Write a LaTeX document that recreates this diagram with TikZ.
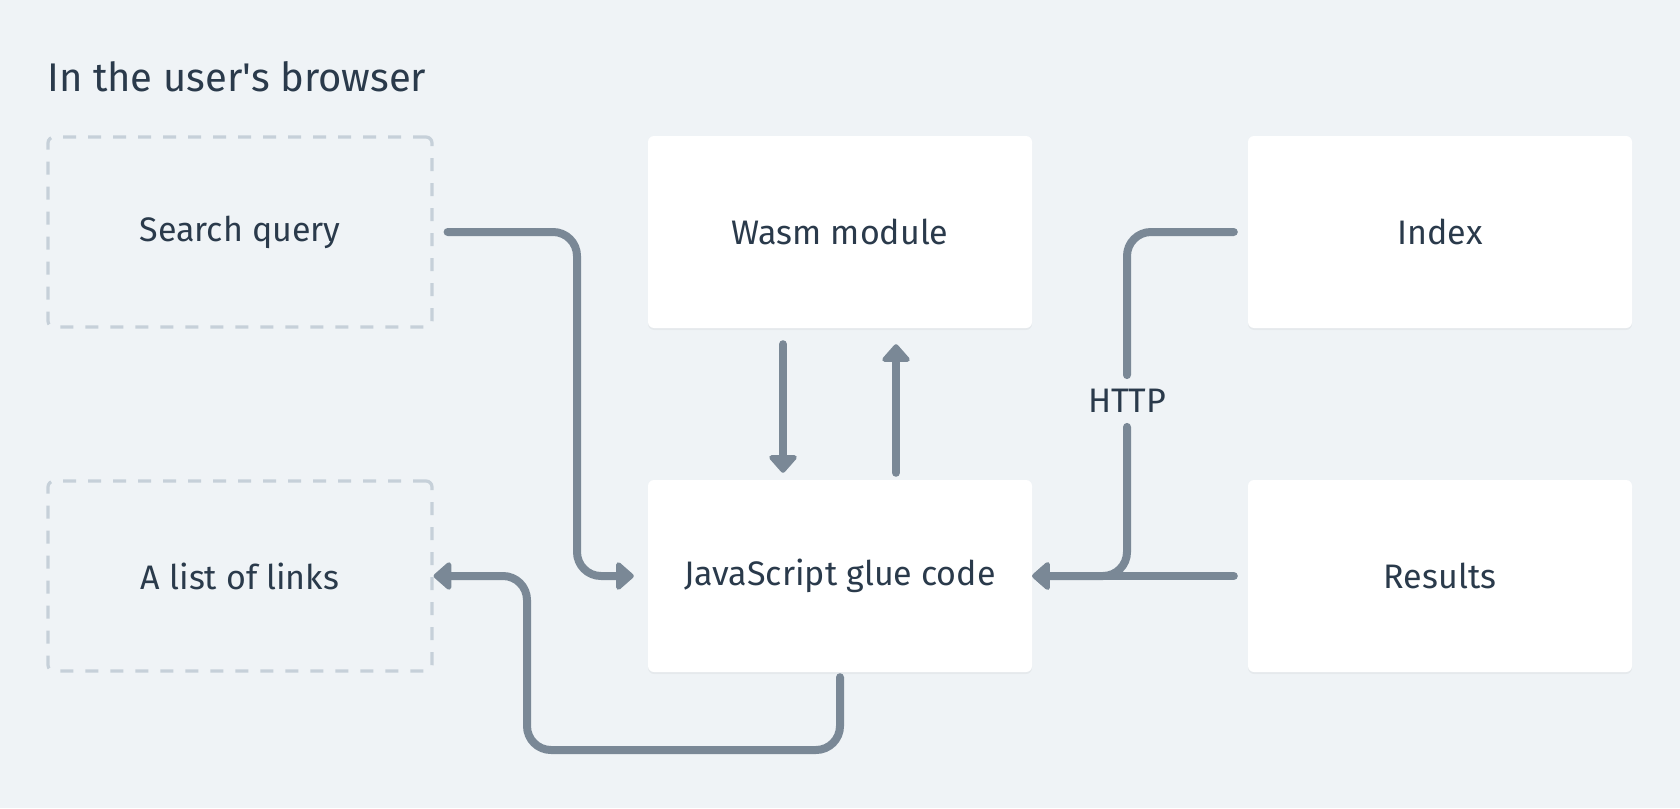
\documentclass[tikz,border=0pt]{standalone}
\usepackage{fontspec}
\setmainfont{Fira Sans}[Ligatures=TeXOff]
\usetikzlibrary{arrows.meta,calc,shadows}
\definecolor{bg}{HTML}{EFF3F6}
\definecolor{txt}{HTML}{2A3A4B}
\definecolor{conncol}{HTML}{7A8896}
\definecolor{dashcol}{HTML}{C6D0D9}
\tikzset{
  whitebox/.style={fill=white, rounded corners=6pt, minimum width=384pt, minimum height=192pt,
    text=txt, font=\fontsize{34}{40}\selectfont, inner sep=0pt,
    drop shadow={shadow xshift=0pt, shadow yshift=-2pt, opacity=0.04, fill=black}},
  dashbox/.style={draw=dashcol, line width=3.2pt, dash pattern=on 13pt off 12pt, rounded corners=6pt,
    minimum width=384pt, minimum height=190pt, text=txt, font=\fontsize{34}{40}\selectfont, inner sep=0pt},
  conn/.style={draw=conncol, line width=8pt, line cap=round, line join=round, rounded corners=24pt},
  tipped/.style={-{Triangle[width=32pt,length=19pt,round]}},
  lbl/.style={text=txt, font=\fontsize{34}{40}\selectfont, inner sep=0pt},
}
\begin{document}
\begin{tikzpicture}[x=1pt,y=-1pt]
\useasboundingbox[fill=bg] (0,0) rectangle (1680,808);
\node[lbl, font=\fontsize{40}{46}\selectfont, anchor=base west] (title) at (47,91) {In the user's browser};
\node[dashbox] (sq) at (240,232) {Search query};
\node[dashbox] (links) at (240,576) {A list of links};
\node[whitebox] (wasm) at (840,232) {Wasm module};
\node[whitebox] (js) at (840,576) {JavaScript glue code};
\node[whitebox] (idx) at (1440,232) {Index};
\node[whitebox] (res) at (1440,576) {Results};
\node[lbl] (http) at (1127,401) {HTTP};
% search query -> js
\draw[conn, tipped] ([xshift=14pt]sq.east) -| (577,450) |- ([xshift=-14pt]js.west);
% wasm <-> js
\draw[conn, tipped] ([xshift=-57pt,yshift=-16pt]wasm.south) -- ([xshift=-57pt,yshift=7pt]js.north);
\draw[conn, tipped] ([xshift=56pt,yshift=7pt]js.north) -- ([xshift=56pt,yshift=-16pt]wasm.south);
% index -> js (HTTP)
\draw[conn] ([xshift=-14pt]idx.west) -| ([yshift=14pt]http.north);
\draw[conn, tipped] ([yshift=-14pt]http.south) |- (js.east);
% results -> js
\draw[conn, tipped] ([xshift=-14pt]res.west) -- (js.east);
% js -> links
\draw[conn, tipped] ([yshift=-5pt]js.south) -- (840,750) -| (527,650) |- (links.east);
\end{tikzpicture}
\end{document}
